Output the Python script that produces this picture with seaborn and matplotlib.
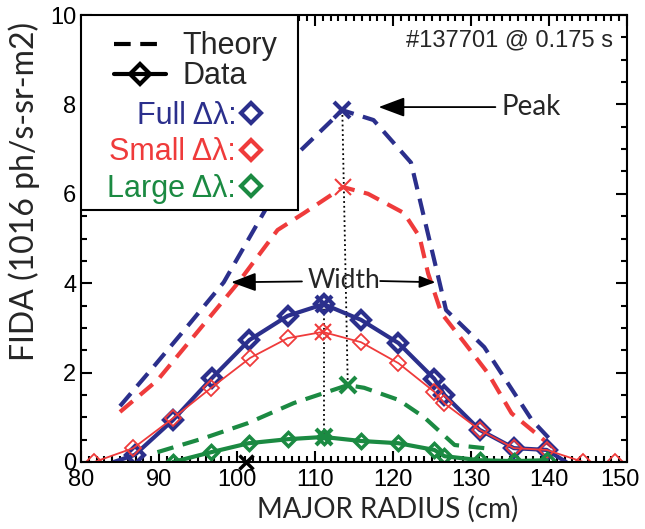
import numpy as np
import pandas as pd
import matplotlib
matplotlib.use("Agg")
import matplotlib.pyplot as plt
import matplotlib.transforms as mtransforms
import seaborn as sns
from matplotlib.lines import Line2D
from matplotlib.patches import Rectangle
from matplotlib.ticker import MultipleLocator

# Theory curves (dashed)
full_th_r = [85.0, 89.3, 94.0, 98.3, 103.4, 107.8, 113.5, 117.5, 122.3, 124.9, 125.8, 126.8, 131.7, 137.8, 140.6]
full_th_v = [1.25, 2.13, 3.11, 4.02, 5.57, 6.91, 7.87, 7.65, 6.70, 4.80, 4.14, 3.40, 2.57, 0.94, 0.42]
small_th_r = [85.0, 89.8, 100.1, 105.2, 108.6, 113.6, 116.8, 121.4, 123.4, 124.5, 126.2, 129.2, 132.2, 135.2, 140.4]
small_th_v = [1.12, 1.83, 4.00, 5.19, 5.57, 6.15, 6.00, 5.57, 5.04, 4.22, 3.33, 2.66, 1.98, 1.09, 0.34]
large_th_r = [89.8, 95.7, 101.4, 107.3, 114.2, 116.3, 120.7, 124.0, 126.2, 127.9, 131.7]
large_th_v = [0.22, 0.53, 0.87, 1.32, 1.72, 1.66, 1.39, 1.00, 0.65, 0.38, 0.31]

# Measured data (solid + diamonds)
full_r = [84.2, 86.9, 91.8, 96.8, 101.6, 106.5, 111.1, 115.9, 120.7, 125.3, 126.6, 131.1, 135.5, 139.7, 142.2]
full_v = [0.00, 0.16, 0.94, 1.88, 2.73, 3.27, 3.53, 3.18, 2.66, 1.86, 1.50, 0.72, 0.31, 0.27, 0.00]
small_r = [81.7, 86.7, 91.8, 96.7, 101.7, 106.5, 111.0, 115.9, 120.7, 125.3, 126.6, 131.1, 135.5, 139.7, 144.4, 148.5]
small_v = [0.00, 0.31, 0.98, 1.66, 2.33, 2.77, 2.91, 2.68, 2.21, 1.57, 1.31, 0.72, 0.31, 0.27, 0.00, 0.00]
large_r = [91.8, 96.7, 101.5, 106.5, 111.1, 115.9, 120.7, 125.3, 126.6, 131.1, 135.5, 139.7]
large_v = [0.00, 0.22, 0.42, 0.51, 0.56, 0.47, 0.42, 0.27, 0.13, 0.04, 0.02, 0.04]

# peak markers
th_peak_r = [113.5, 113.6, 114.2]
th_peak_v = [7.87, 6.15, 1.72]
data_peak_r = [111.1, 111.0, 111.1]
data_peak_v = [3.53, 2.91, 0.56]
zero_mark_r = [101.1]
zero_mark_v = [0.0]

blue = "#2b2f8c"
red = "#ef3b3b"
green = "#1b8a42"
colors = [blue, red, green]
label_font = "Lato"

sns.set_theme(style="ticks")
plt.rcParams["font.family"] = ["Liberation Sans", "DejaVu Sans"]

fig = plt.figure(figsize=(6.45, 5.29), dpi=100)
ax = fig.add_axes([81 / 645, 67 / 529, 546 / 645, 447 / 529])

dash = (4, 2.3)
# theory
for r, v, c in [(full_th_r, full_th_v, blue), (small_th_r, small_th_v, red), (large_th_r, large_th_v, green)]:
    df = pd.DataFrame({"r": r, "v": v})
    sns.lineplot(data=df, x="r", y="v", sort=False, estimator=None, ax=ax,
                 color=c, lw=3, dashes=dash)

# data
df_full = pd.DataFrame({"r": full_r, "v": full_v})
sns.lineplot(data=df_full, x="r", y="v", sort=False, estimator=None, ax=ax, color=blue, lw=3,
             marker="D", ms=9, mfc="none", mec=blue, mew=3, markevery=list(range(1, len(full_r) - 1)))
df_small = pd.DataFrame({"r": small_r, "v": small_v})
sns.lineplot(data=df_small, x="r", y="v", sort=False, estimator=None, ax=ax, color=red, lw=1.3,
             marker="D", ms=8, mfc="none", mec=red, mew=1.3)
df_large = pd.DataFrame({"r": large_r, "v": large_v})
sns.lineplot(data=df_large, x="r", y="v", sort=False, estimator=None, ax=ax, color=green, lw=3,
             marker="D", ms=7, mfc="none", mec=green, mew=2.5)

# peaks and dotted guides
ax.plot(th_peak_r[::2], th_peak_v[::2], ":", color="black", lw=1.3, zorder=1)
ax.plot(data_peak_r[::2], data_peak_v[::2], ":", color="black", lw=1.3, zorder=1)
for i, c in enumerate(colors):
    w = 1.5 if c == red else 3
    ax.plot(th_peak_r[i], th_peak_v[i], "x", color=c, ms=12, mew=w)
    ax.plot(data_peak_r[i], data_peak_v[i], "x", color=c, ms=12, mew=w)
ax.plot(zero_mark_r, zero_mark_v, "x", color="black", ms=10, mew=2.5, clip_on=False)

# annotations
arrow = dict(arrowstyle="-|>,head_length=0.8,head_width=0.3", color="black", lw=1.3)
ax.annotate("Peak", xy=(117.8, 7.94), xytext=(133.9, 7.94), fontsize=20, family=label_font,
            va="center", ha="left", arrowprops=arrow)
ax.annotate("Width", xy=(98.9, 4.02), xytext=(109.1, 4.05), fontsize=19, family=label_font,
            va="center", ha="left", arrowprops=arrow)
ax.annotate("", xy=(125.8, 4.02), xytext=(118.0, 4.05), arrowprops=arrow)
ax.text(148.2, 9.44, "#137701 @ 0.175 s", fontsize=17, ha="right", va="center")

# legend box
ax.add_patch(Rectangle((0, 0.564), 0.397, 0.436, transform=ax.transAxes, fill=True,
                       facecolor="white", edgecolor="black", lw=1.5, zorder=5))
h1 = [Line2D([], [], color="black", lw=3, ls=(0, dash)),
      Line2D([], [], color="black", lw=3, marker="D", ms=10, mfc="none", mew=3)]
leg1 = ax.legend(h1, ["Theory", "Data"], loc="upper left", bbox_to_anchor=(0.01, 1.025),
                 frameon=False, fontsize=22, handlelength=1.7, handletextpad=0.55, labelspacing=0.0)
leg1.set_zorder(6)
ax.add_artist(leg1)
h2 = [Line2D([], [], ls="none", marker="D", ms=10, mfc="none", mec=c, mew=3) for c in colors]
leg2 = ax.legend(h2, ["Full Δλ:", "Small Δλ:", "Large Δλ:"], loc="upper right",
                 bbox_to_anchor=(0.385, 0.87), frameon=False, fontsize=22, markerfirst=False,
                 handlelength=0.8, handletextpad=0.1, labelspacing=0.22, labelcolor=colors)
leg2.set_zorder(6)

ax.set_xlim(80, 150)
ax.set_ylim(0, 10)
ax.xaxis.set_major_locator(MultipleLocator(10))
ax.xaxis.set_minor_locator(MultipleLocator(1))
ax.yaxis.set_major_locator(MultipleLocator(2))
ax.yaxis.set_minor_locator(MultipleLocator(0.5))
ax.tick_params(which="both", direction="in", top=True, right=True, width=1.5, colors="black",
               labelsize=17)
ax.tick_params(axis="x", pad=5)
ax.tick_params(which="major", length=8)
ax.tick_params(which="minor", length=4)
for s in ax.spines.values():
    s.set_linewidth(1.5)
    s.set_color("black")
ax.set_xlabel("MAJOR RADIUS (cm)", fontsize=20, family=label_font)
ax.xaxis.set_label_coords(0.562, -0.075)
ax.set_ylabel("FIDA (1016 ph/s-sr-m2)", fontsize=23, family=label_font)
ax.yaxis.set_label_coords(-0.075, 0.606)

# last x tick label sits a little left of its tick, as in the original
fig.canvas.draw()
shift = mtransforms.ScaledTranslation(-5 / 72, 0, fig.dpi_scale_trans)
for t in ax.xaxis.get_major_ticks():
    if abs(t.get_loc() - 150) < 1e-6:
        t.label1.set_transform(t.label1.get_transform() + shift)

fig.savefig("out.png", dpi=100)
